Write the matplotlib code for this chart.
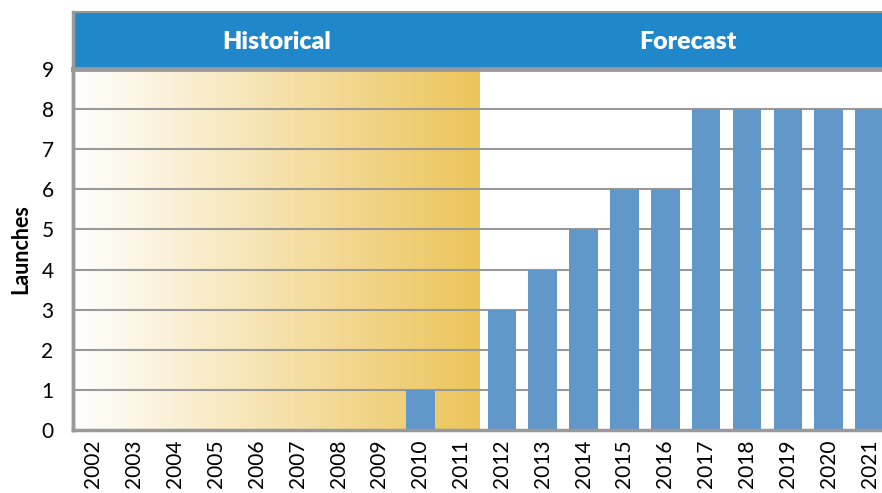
import numpy as np
import matplotlib
matplotlib.use("Agg")
import matplotlib.pyplot as plt
from matplotlib.colors import LinearSegmentedColormap
from matplotlib.patches import Rectangle

years = [str(y) for y in range(2002, 2022)]
launches = [0, 0, 0, 0, 0, 0, 0, 0, 1, 0, 3, 4, 5, 6, 6, 8, 8, 8, 8, 8]
n_hist = 10  # 2002-2011 are historical

gray = '#999999'
bar_color = '#6197C9'
header_blue = '#2088CA'

plt.rcParams['font.family'] = ['Lato', 'DejaVu Sans']

fig = plt.figure(figsize=(8.82, 4.93), dpi=100)
ax = fig.add_axes([73 / 882, 63 / 493, 817 / 882, 361 / 493])

x = np.arange(len(years))
ax.set_xlim(-0.5, len(years) - 0.5)
ax.set_ylim(0, 9)

# shaded historical period
cmap = LinearSegmentedColormap.from_list('hist', ['#FFFFFF', '#ECC45A'])
grad = np.linspace(0, 1, 256).reshape(1, -1)
ax.imshow(grad, cmap=cmap, aspect='auto', extent=(-0.5, n_hist - 0.55, 0, 9),
          zorder=0, interpolation='bicubic')

for yv in range(1, 9):
    ax.axhline(yv, color=gray, lw=1.5, zorder=1)

ax.bar(x, launches, width=0.7, color=bar_color, zorder=2)

ax.set_xticks(x)
ax.set_xticklabels(years, rotation=90, fontsize=15)
ax.set_yticks(range(10))
ax.tick_params(axis='y', labelsize=15, length=0, pad=14)
ax.tick_params(axis='x', length=0, pad=7)
ax.set_ylabel('Launches', fontsize=15.5, fontweight='bold', labelpad=7)

for side in ['top', 'right']:
    ax.spines[side].set_visible(False)
for side in ['left', 'bottom']:
    ax.spines[side].set_color(gray)
    ax.spines[side].set_linewidth(2.5)
    ax.spines[side].set_zorder(3)

# header band above the plot
ax.add_patch(Rectangle((-0.5, 9.0), len(years), 1.42, facecolor=header_blue,
                       edgecolor='none', clip_on=False, zorder=4))
ax.plot([-0.5, len(years) - 0.5], [10.42, 10.42], color=gray, lw=1.5,
        clip_on=False, zorder=5)
ax.plot([-0.5, len(years) - 0.5], [9.0, 9.0], color=gray, lw=3.5,
        clip_on=False, zorder=5)
ax.plot([-0.5, -0.5], [0, 10.42], color=gray, lw=2.5, clip_on=False, zorder=5)

ax.text((n_hist - 0.55 - 0.5) / 2, 9.68, 'Historical', color='white',
        fontsize=18, fontweight='heavy', ha='center', va='center', zorder=6)
ax.text(14.55, 9.68, 'Forecast', color='white', fontsize=18,
        fontweight='heavy', ha='center', va='center', zorder=6)

fig.savefig('out.png', dpi=100)
